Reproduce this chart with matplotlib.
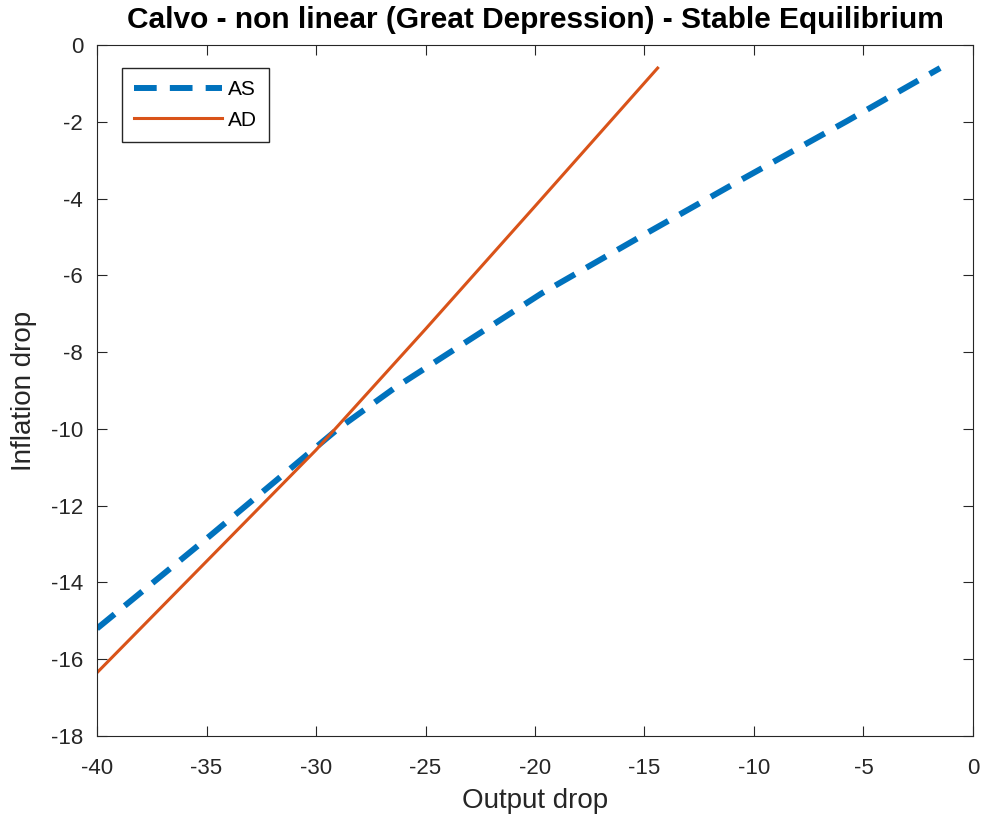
import numpy as np
import matplotlib.pyplot as plt

# AS and AD curves
as_x = [-40, -35, -29, -26.4, -19.7, -14.9, -10.9, -5.75, -1.5]
as_y = [-15.2, -12.86, -10.0, -8.93, -6.47, -4.9, -3.61, -1.98, -0.6]
ad_x = [-40, -35, -30, -25, -20, -14.4]
ad_y = [-16.35, -13.45, -10.55, -7.4, -4.2, -0.6]

x_ticks = np.arange(-40, 1, 5)
y_ticks = np.arange(-18, 1, 2)

plt.rcParams['font.family'] = ['Liberation Sans', 'DejaVu Sans']
plt.rcParams['axes.unicode_minus'] = False

fig = plt.figure(figsize=(9.84, 8.23), dpi=100)
ax = fig.add_axes([0.0986, 0.1057, 0.8902, 0.8396])

ax.plot(as_x, as_y, color='#0072BD', lw=4.3, ls=(0, (3.8, 2.2)), label='AS')
ax.plot(ad_x, ad_y, color='#D95319', lw=2.2, label='AD')

ax.set_xlim(-40, 0)
ax.set_ylim(-18, 0)
ax.set_xticks(x_ticks)
ax.set_yticks(y_ticks)
ax.tick_params(direction='in', top=True, right=True, labelsize=16, length=7,
               colors='#262626')
ax.tick_params(axis='x', pad=16)
ax.tick_params(axis='y', pad=10)
for s in ax.spines.values():
    s.set_color('#262626')

ax.set_xlabel('Output drop', fontsize=20, color='#262626', labelpad=6)
ax.set_ylabel('Inflation drop', fontsize=20, color='#262626', labelpad=10)
ax.set_title('Calvo - non linear (Great Depression) - Stable Equilibrium',
             fontsize=21.5, fontweight='bold', pad=12)

leg = ax.legend(loc='upper left', bbox_to_anchor=(0.028, 0.967), fontsize=15,
                fancybox=False, edgecolor='#262626', framealpha=1,
                handlelength=4.2, handletextpad=0.3, borderpad=0.6,
                labelspacing=0.55, borderaxespad=0)
leg.get_frame().set_linewidth(1.0)

fig.savefig('out.png', dpi=100)
